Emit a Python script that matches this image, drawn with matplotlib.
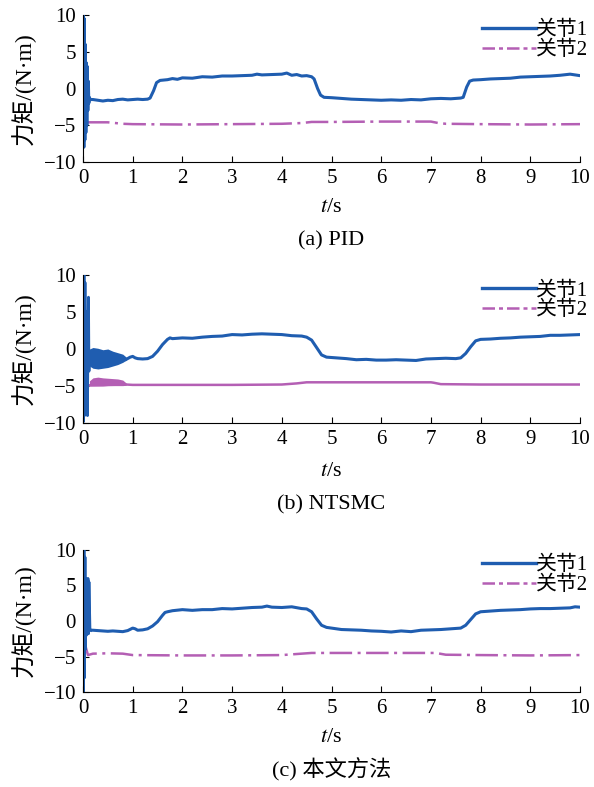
import matplotlib
matplotlib.use("Agg")
from matplotlib import pyplot as plt
from matplotlib.lines import Line2D

plt.rcParams['font.family'] = ['Liberation Serif', 'Noto Sans CJK SC']
plt.rcParams['mathtext.fontset'] = 'stix'

BLUE = '#1f5db0'
PINK = '#b45fb4'

# (a) PID
pid_t1 = [0, 0.01, 0.02, 0.03, 0.04, 0.05, 0.06, 0.07, 0.08, 0.09, 0.10, 0.11, 0.12, 0.13, 0.15,
          0.2, 0.3, 0.4, 0.5, 0.6, 0.7, 0.8, 0.9, 1.0, 1.1, 1.2, 1.3, 1.35, 1.42, 1.48, 1.55,
          1.7, 1.8, 1.9, 2.0, 2.2, 2.4, 2.6, 2.8, 3.0, 3.2, 3.4, 3.5, 3.6, 3.8, 4.0, 4.1, 4.2,
          4.3, 4.4, 4.5, 4.6, 4.65, 4.72, 4.78, 4.85, 5.0, 5.2, 5.4, 5.6, 5.8, 6.0, 6.2, 6.4,
          6.6, 6.8, 7.0, 7.2, 7.4, 7.6, 7.65, 7.72, 7.78, 7.85, 8.0, 8.2, 8.4, 8.6, 8.8, 9.0,
          9.2, 9.4, 9.6, 9.8, 9.9, 10.0]
pid_j1 = [0, 10, -8, 9.5, -7, 6, -6, 3.5, -5, 3, -3, 1, -2, -1.2, -1.5,
          -1.5, -1.6, -1.7, -1.6, -1.65, -1.5, -1.45, -1.55, -1.5, -1.45, -1.5, -1.45, -1.3, -0.3, 0.8, 1.1,
          1.2, 1.35, 1.25, 1.45, 1.4, 1.6, 1.55, 1.7, 1.7, 1.75, 1.8, 1.95, 1.85, 1.9, 1.95, 2.1, 1.8,
          1.9, 1.7, 1.75, 1.6, 1.3, 0.0, -0.9, -1.2, -1.25, -1.35, -1.45, -1.5, -1.55, -1.6, -1.55, -1.6,
          -1.5, -1.55, -1.4, -1.35, -1.4, -1.3, -1.2, 0.2, 1.0, 1.15, 1.2, 1.3, 1.35, 1.4, 1.55, 1.6,
          1.65, 1.7, 1.8, 1.95, 1.85, 1.75]
pid_t2 = [0.08, 0.5, 0.8, 1.0, 2.0, 3.0, 4.0, 4.4, 4.6, 5.0, 6.0, 7.0, 7.15, 7.3, 8.0, 9.0, 10.0]
pid_j2 = [-4.6, -4.6, -4.8, -4.85, -4.9, -4.85, -4.8, -4.7, -4.55, -4.55, -4.5, -4.5, -4.7, -4.8, -4.85, -4.9, -4.85]

# (b) NTSMC
nts_t1 = [0, 0.01, 0.02, 0.03, 0.04, 0.05, 0.06, 0.07, 0.08, 0.09, 0.10, 0.11, 0.12, 0.13,
          0.87, 0.95, 1.0, 1.05, 1.1, 1.2, 1.3, 1.4, 1.5, 1.6, 1.7, 1.75, 1.8, 2.0, 2.2, 2.4,
          2.6, 2.8, 3.0, 3.2, 3.4, 3.6, 3.8, 4.0, 4.2, 4.4, 4.5, 4.6, 4.7, 4.8, 4.9, 5.1, 5.3,
          5.5, 5.7, 5.9, 6.1, 6.3, 6.5, 6.7, 6.9, 7.1, 7.3, 7.5, 7.6, 7.7, 7.8, 7.9, 8.0, 8.2,
          8.4, 8.6, 8.8, 9.0, 9.2, 9.4, 9.6, 9.8, 10.0]
nts_j1 = [0, -9.8, 10, -9, 9, -8, 5, -6, 3, -9, 2, 7, -3, -1,
          -1.4, -1.1, -1.0, -1.2, -1.3, -1.35, -1.3, -1.0, -0.3, 0.6, 1.3, 1.5, 1.4, 1.5, 1.45, 1.6,
          1.7, 1.75, 1.95, 1.9, 2.0, 2.05, 2.0, 1.95, 1.8, 1.75, 1.6, 1.2, 0.2, -0.8, -1.1, -1.2, -1.3,
          -1.45, -1.4, -1.5, -1.5, -1.45, -1.5, -1.55, -1.35, -1.3, -1.25, -1.3, -1.2, -0.6, 0.3, 1.1, 1.3, 1.35,
          1.45, 1.5, 1.6, 1.65, 1.7, 1.85, 1.85, 1.9, 1.95]
# chattering band of joint 1, 0.13-0.87 s
nts_band_t = [0.13, 0.2, 0.3, 0.4, 0.5, 0.6, 0.7, 0.8, 0.87]
nts_band_hi = [0.0, 0.2, 0.1, -0.1, 0.0, -0.3, -0.5, -0.7, -1.1]
nts_band_lo = [-2.3, -2.6, -2.7, -2.6, -2.5, -2.3, -2.1, -1.8, -1.5]
nts_t2 = [0.0, 0.13, 0.87, 1.0, 2.0, 3.0, 4.0, 4.3, 4.5, 5.0, 6.0, 7.0, 7.05, 7.2, 8.0, 9.0, 10.0]
nts_j2 = [-5.0, -4.9, -4.8, -4.85, -4.85, -4.85, -4.8, -4.65, -4.5, -4.5, -4.5, -4.5, -4.55, -4.75, -4.8, -4.8, -4.8]
nts_band2_t = [0.13, 0.2, 0.3, 0.4, 0.5, 0.6, 0.7, 0.8, 0.87]
nts_band2_hi = [-4.3, -3.9, -3.8, -3.9, -3.95, -4.0, -4.05, -4.2, -4.6]
nts_band2_lo = [-5.0, -5.0, -5.0, -5.0, -4.95, -4.95, -4.95, -4.95, -4.9]

# (c) proposed method
our_t1 = [0, 0.01, 0.02, 0.03, 0.04, 0.05, 0.06, 0.07, 0.08, 0.09, 0.10, 0.11, 0.12, 0.14, 0.16,
          0.2, 0.3, 0.4, 0.5, 0.6, 0.7, 0.8, 0.9, 1.0, 1.05, 1.1, 1.2, 1.3, 1.4, 1.5, 1.6, 1.65,
          1.7, 1.8, 2.0, 2.2, 2.4, 2.6, 2.8, 3.0, 3.2, 3.4, 3.6, 3.7, 3.8, 4.0, 4.2, 4.4, 4.5,
          4.6, 4.7, 4.8, 4.9, 5.0, 5.2, 5.4, 5.6, 5.8, 6.0, 6.2, 6.4, 6.6, 6.8, 7.0, 7.2, 7.4,
          7.6, 7.7, 7.8, 7.9, 8.0, 8.2, 8.4, 8.6, 8.8, 9.0, 9.2, 9.4, 9.6, 9.8, 9.9, 10.0]
our_j1 = [0, -10, 10, -8, 9, -4, 6, -2, 5, -1.5, 6, -1.8, 5.5, -1.2, -1.3,
          -1.3, -1.35, -1.4, -1.45, -1.4, -1.45, -1.5, -1.35, -1.0, -1.1, -1.3, -1.25, -1.1, -0.7, -0.1, 0.8, 1.2,
          1.3, 1.45, 1.6, 1.5, 1.6, 1.6, 1.75, 1.7, 1.8, 1.9, 1.95, 2.1, 1.95, 1.9, 2.0, 1.75, 1.7,
          1.3, 0.3, -0.6, -0.9, -1.0, -1.2, -1.25, -1.3, -1.4, -1.45, -1.55, -1.4, -1.5, -1.3, -1.25, -1.2, -1.1,
          -1.0, -0.6, 0.2, 1.0, 1.3, 1.4, 1.5, 1.55, 1.6, 1.7, 1.75, 1.75, 1.8, 1.85, 2.0, 1.95]
our_t2 = [0.02, 0.04, 0.06, 0.1, 0.2, 0.5, 0.8, 1.0, 2.0, 3.0, 4.0, 4.4, 4.6, 6.0, 7.1, 7.3, 8.0, 9.0, 10.0]
our_j2 = [-3.0, -3.2, -3.8, -4.8, -4.6, -4.55, -4.6, -4.8, -4.85, -4.85, -4.8, -4.6, -4.5, -4.5, -4.5, -4.75, -4.8, -4.85, -4.8]

captions = ['(a) PID', '(b) NTSMC', '(c) 本文方法']
legend_labels = ['关节1', '关节2']
xticks = list(range(0, 11))
yticks = [-10, -5, 0, 5, 10]

DASHDOT = (0, (5, 1.6, 1.6, 1.6))
LONGDASH = (0, (9, 2.2, 1.2, 2.2))

W, H = 594, 787
fig = plt.figure(figsize=(W / 100, H / 100), dpi=100)

# axes boxes in pixels: left, right, top, bottom
boxes = [(83, 580, 15, 162), (83, 580, 275, 423), (83, 580, 550, 692)]
xlab_y = [208, 472, 738]
cap_y = [241, 505, 770]

panels = [
    (pid_t1, pid_j1, pid_t2, pid_j2, None, None),
    (nts_t1, nts_j1, nts_t2, nts_j2, (nts_band_t, nts_band_lo, nts_band_hi), (nts_band2_t, nts_band2_lo, nts_band2_hi)),
    (our_t1, our_j1, our_t2, our_j2, None, None),
]

for i, (t1, j1, t2, j2, band1, band2) in enumerate(panels):
    l, r, tp, bt = boxes[i]
    ax = fig.add_axes([l / W, 1 - bt / H, (r - l) / W, (bt - tp) / H])

    if band2 is not None:
        ax.fill_between(band2[0], band2[1], band2[2], color=PINK, lw=0)
        ax.plot(t2, j2, color=PINK, lw=1.8, solid_joinstyle='round')
    else:
        ax.plot(t2, j2, color=PINK, lw=1.8, linestyle=LONGDASH)
    if band1 is not None:
        # main curve in two pieces around the chattering band
        ax.plot(t1[:14], j1[:14], color=BLUE, lw=2.0)
        ax.fill_between(band1[0], band1[1], band1[2], color=BLUE, lw=0)
        ax.plot(t1[14:], j1[14:], color=BLUE, lw=2.2)
    else:
        ax.plot(t1[:15], j1[:15], color=BLUE, lw=2.0)
        ax.plot(t1[14:], j1[14:], color=BLUE, lw=2.2)

    ax.set_xlim(0, 10)
    ax.set_ylim(-10, 10)
    ax.set_xticks(xticks)
    ax.set_yticks(yticks)
    ax.spines['top'].set_visible(False)
    ax.spines['right'].set_visible(False)
    ax.tick_params(direction='in', length=4, labelsize=15, pad=5)

    ax.set_ylabel('力矩/(N·m)', fontsize=17, va='center', ha='center')
    ax.yaxis.set_label_coords((23 - l) / (r - l), 0.5)
    ax.set_xlabel('$t$/s', fontsize=16, va='center')
    ax.xaxis.set_label_coords(0.5, -(xlab_y[i] - bt) / (bt - tp))

    handles = [Line2D([], [], color=BLUE, lw=2.4),
               Line2D([], [], color=PINK, lw=1.8, linestyle=DASHDOT)]
    ax.legend(handles, legend_labels, loc='upper right', bbox_to_anchor=(1.016, 0.96),
              frameon=False, fontsize=15, handlelength=2.6, handletextpad=0.0,
              labelspacing=0.0, borderpad=0, borderaxespad=0)

    fig.text((l + r) / 2 / W, 1 - cap_y[i] / H, captions[i], fontsize=16, ha='center', va='center')

fig.savefig('out.png', dpi=100)
